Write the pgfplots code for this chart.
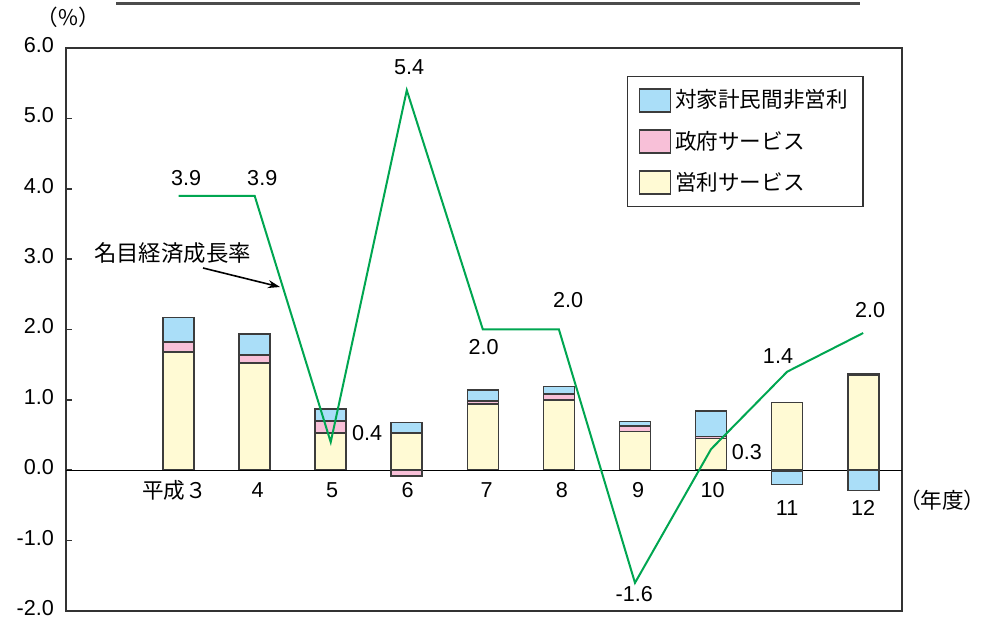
\documentclass[border=0pt]{standalone}
\usepackage{pgfplots}
\pgfplotsset{compat=1.18}
\usetikzlibrary{arrows.meta}
\usepackage{fontspec}
\setmainfont{Liberation Sans}
\newfontfamily\jp{Noto Sans CJK JP}
\newfontfamily\jpp[RawFeature=+palt]{Noto Sans CJK JP}
\definecolor{cblue}{RGB}{170,222,248}
\definecolor{cpink}{RGB}{248,192,216}
\definecolor{cyellow}{RGB}{255,250,212}
\definecolor{cedge}{RGB}{60,60,60}
\definecolor{cgreen}{RGB}{0,166,81}
\pgfplotsset{
  base/.style={at={(0pt,0pt)}, anchor=south west, scale only axis,
    width=418pt, height=281.5pt,
    xmin=-1.48, xmax=9.51, ymin=-2, ymax=6, clip=false},
  bars/.style={fill=#1, draw=cedge, line width=0.8pt},
}
\begin{document}
\begin{tikzpicture}
\path[use as bounding box] (-33pt,-4pt) rectangle (459pt,305.5pt);
% positive parts
\begin{axis}[base,
  ybar stacked, bar width=15.5pt,
  xtick=\empty,
  ytick={-2,-1,0,1,2,3,4,5,6},
  /pgf/number format/assume math mode=true,
  yticklabel style={/pgf/number format/fixed, /pgf/number format/precision=1, /pgf/number format/fixed zerofill, font=\fontsize{10.8}{12}\selectfont, xshift=-2.5pt, yshift=1.5pt},
  tick align=inside, ytick pos=left, major tick length=3pt,
  tick style={black!80, line width=0.8pt},
  axis line style={black!80, line width=0.8pt},
  reverse legend,
  legend image code/.code={\draw[#1, line width=0.8pt] (0pt,-5.75pt) rectangle (15.5pt,5.75pt);},
  legend style={at={(rel axis cs:0.671,0.950)}, anchor=north west, draw=black!80, line width=0.6pt,
    font=\jp\fontsize{10.8}{12}\selectfont, inner xsep=5.5pt, inner ysep=4.5pt, row sep=6pt,
    legend cell align=left},
]
\draw[black, line width=0.6pt] (axis cs:-1.48,0) -- (axis cs:9.51,0);
\addplot[bars=cyellow] coordinates {(0,1.68) (1,1.52) (2,0.53) (3,0.53) (4,0.94) (5,1.00) (6,0.55) (7,0.45) (8,0.96) (9,1.35)};
\addlegendentry{営利サービス}
\addplot[bars=cpink] coordinates {(0,0.14) (1,0.12) (2,0.17) (3,0) (4,0.04) (5,0.08) (6,0.08) (7,0.03) (8,0) (9,0.01)};
\addlegendentry{政府サービス}
\addplot[bars=cblue] coordinates {(0,0.35) (1,0.30) (2,0.17) (3,0.15) (4,0.16) (5,0.11) (6,0.06) (7,0.36) (8,0) (9,0.01)};
\addlegendentry{対家計民間非営利}
\end{axis}
% negative parts
\begin{axis}[base, hide axis, ybar stacked, bar width=15.5pt]
\addplot[bars=cpink] coordinates {(0,0) (1,0) (2,0) (3,-0.08) (4,0) (5,0) (6,0) (7,0) (8,-0.02) (9,0)};
\addplot[bars=cblue] coordinates {(0,0) (1,0) (2,0) (3,0) (4,0) (5,0) (6,0) (7,0) (8,-0.18) (9,-0.29)};
\end{axis}
% growth rate line and labels
\begin{axis}[base, hide axis]
\addplot[sharp plot, no marks, draw=cgreen, line width=1pt] coordinates {(0,3.9) (1,3.9) (2,0.4) (3,5.4) (4,2.0) (5,2.0) (6,-1.6) (7,0.3) (8,1.4) (9,1.95)};
\begin{scope}[font=\fontsize{10.8}{12}\selectfont]
\node at (axis cs:0.10,4.15) {3.9};
\node at (axis cs:1.10,4.15) {3.9};
\node at (axis cs:3.03,5.73) {5.4};
\node at (axis cs:4.01,1.75) {2.0};
\node at (axis cs:5.12,2.42) {2.0};
\node at (axis cs:5.99,-1.76) {-1.6};
\node at (axis cs:7.47,0.26) {0.3};
\node at (axis cs:7.88,1.62) {1.4};
\node at (axis cs:9.09,2.28) {2.0};
\node at (axis cs:2.48,0.53) {0.4};
\node at (axis cs:-0.05,-0.28) {\jp 平成３};
\node at (axis cs:1.04,-0.28) {4};
\node at (axis cs:2.02,-0.28) {5};
\node at (axis cs:3.01,-0.28) {6};
\node at (axis cs:4.05,-0.28) {7};
\node at (axis cs:5.04,-0.28) {8};
\node at (axis cs:6.04,-0.28) {9};
\node at (axis cs:7.02,-0.28) {10};
\node at (axis cs:8.00,-0.54) {11};
\node at (axis cs:9.00,-0.54) {12};
\node[inner sep=0pt] at (axis cs:10.04,-0.42) {\jpp （年度）};
\node at (axis cs:-1.45,6.43) {\jp （\%）};
\node[font=\jp\fontsize{11.2}{13}\selectfont] at (axis cs:-0.08,3.09) {名目経済成長率};
\end{scope}
\end{axis}
\draw[-{Stealth[length=6pt,width=4pt]}, line width=0.8pt] (68.5pt,171.5pt) -- (107pt,162pt);
\draw[black!70, line width=1.2pt] (25pt,303.75pt) -- (397pt,303.75pt);
\end{tikzpicture}
\end{document}
